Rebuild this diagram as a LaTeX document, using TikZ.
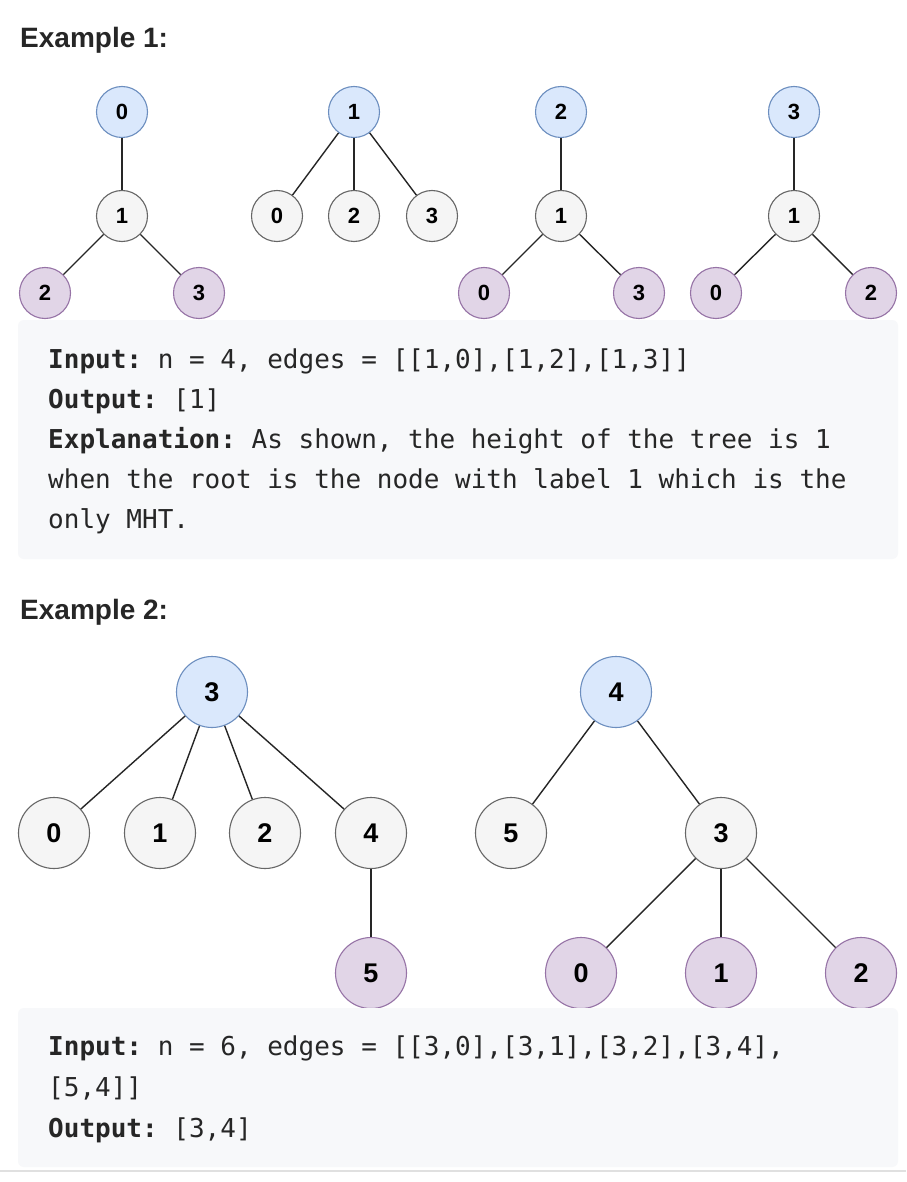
\documentclass[tikz,border=0pt]{standalone}
\usepackage{fontspec}
\setmainfont{Liberation Sans}
\setmonofont{DejaVu Sans Mono}
\definecolor{rootfill}{HTML}{DAE8FC}\definecolor{rootline}{HTML}{6C8EBF}
\definecolor{midfill}{HTML}{F5F5F5}\definecolor{midline}{HTML}{666666}
\definecolor{leaffill}{HTML}{E1D5E7}\definecolor{leafline}{HTML}{9673A6}
\definecolor{boxfill}{HTML}{F7F8FA}\definecolor{ink}{HTML}{262626}
\newcommand{\codefont}{\ttfamily\fontsize{26}{30}\selectfont\frenchspacing}

\begin{document}
\begin{tikzpicture}[x=1pt,y=-1pt,
  vtx/.style={circle,line width=1.1pt,inner sep=0pt},
  small/.style={vtx,minimum size=51pt,font=\bfseries\fontsize{22}{22}\selectfont},
  big/.style={vtx,minimum size=71pt,font=\bfseries\fontsize{27}{27}\selectfont},
  rootnode/.style={draw=rootline,fill=rootfill},
  midnode/.style={draw=midline,fill=midfill},
  leafnode/.style={draw=leafline,fill=leaffill},
  edge/.style={line width=1.4pt,draw=black!85},
  heading/.style={anchor=base west,inner sep=0pt,text=ink,font=\bfseries\fontsize{28}{28}\selectfont},
  code/.style={anchor=base west,inner sep=0pt,text=ink,font=\codefont}]
  \useasboundingbox (0,0) rectangle (906,1182);
  \fill[white] (0,0) rectangle (906,1182);

  % Example 1
  \node[heading] (h1) at (20,48) {Example 1:};
  \foreach \nm/\lab/\x/\y/\kind in {a0/0/122/112/rootnode, a1/1/122/216/midnode,
      a2/2/45/293/leafnode, a3/3/199/293/leafnode,
      b1/1/354/112/rootnode, b0/0/277/216/midnode, b2/2/354/216/midnode, b3/3/432/216/midnode,
      c2/2/561/112/rootnode, c1/1/561/216/midnode, c0/0/484/293/leafnode, c3/3/639/293/leafnode,
      d3/3/794/112/rootnode, d1/1/794/216/midnode, d0/0/716/293/leafnode, d2/2/871/293/leafnode}
    \node[small,\kind] (\nm) at (\x,\y) {\lab};
  \foreach \u/\v in {a0/a1, a1/a2, a1/a3, b1/b0, b1/b2, b1/b3,
      c2/c1, c1/c0, c1/c3, d3/d1, d1/d0, d1/d2}
    \draw[edge] (\u) -- (\v);

  \fill[boxfill,rounded corners=6pt] (18,320) rectangle (898,559);
  \node[code] (in1) at (48,368) {\textbf{Input:} n = 4, edges = [[1,0],[1,2],[1,3]]};
  \node[code] (out1) at (48,408) {\textbf{Output:} [1]};
  \node[code] (ex1) at (48,448) {\textbf{Explanation:} As shown, the height of the tree is 1};
  \node[code] (ex2) at (48,488) {when the root is the node with label 1 which is the};
  \node[code] (ex3) at (48,528) {only MHT.};

  % Example 2
  \node[heading] (h2) at (20,619) {Example 2:};
  \foreach \nm/\lab/\x/\y/\kind in {e3/3/212/692/rootnode, e0/0/54/833/midnode,
      e1/1/160/833/midnode, e2/2/265/833/midnode, e4/4/371/833/midnode, e5/5/371/973/leafnode,
      f4/4/616/692/rootnode, f5/5/511/833/midnode, f3/3/721/833/midnode,
      f0/0/581/973/leafnode, f1/1/721/973/leafnode, f2/2/861/973/leafnode}
    \node[big,\kind] (\nm) at (\x,\y) {\lab};
  \foreach \u/\v in {e3/e0, e3/e1, e3/e2, e3/e4, e4/e5,
      f4/f5, f4/f3, f3/f0, f3/f1, f3/f2}
    \draw[edge] (\u) -- (\v);

  \fill[boxfill,rounded corners=6pt] (18,1008) rectangle (898,1167);
  \node[code] (in2) at (48,1055) {\textbf{Input:} n = 6, edges = [[3,0],[3,1],[3,2],[3,4],};
  \node[code] (in3) at (48,1096) {[5,4]]};
  \node[code] (out2) at (48,1137) {\textbf{Output:} [3,4]};
  \draw[black!12,line width=2pt] (0,1171) -- (906,1171);
\end{tikzpicture}
\end{document}
